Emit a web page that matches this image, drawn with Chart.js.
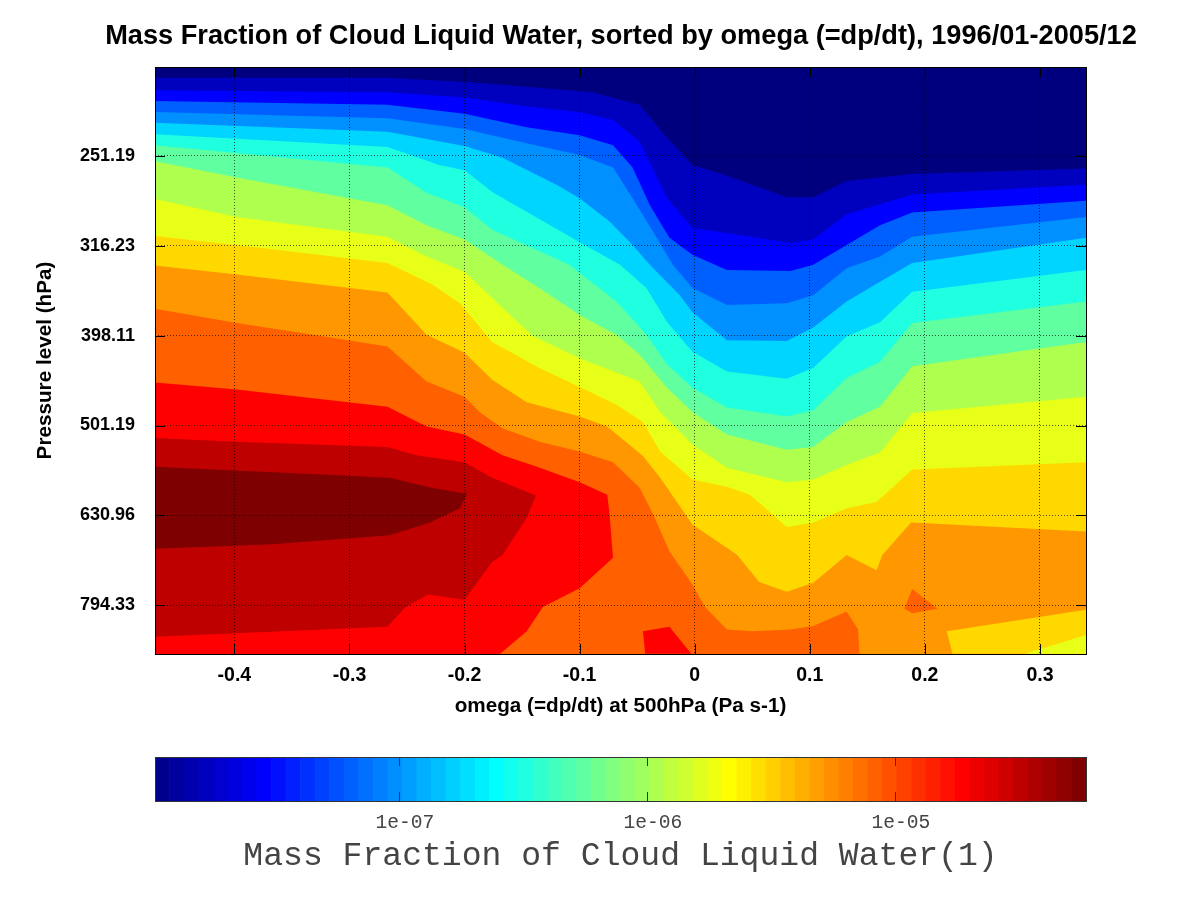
<!DOCTYPE html>
<html><head><meta charset="utf-8">
<style>html,body{margin:0;padding:0;background:#fff;width:1200px;height:900px;overflow:hidden}
canvas{position:absolute;left:0;display:block}</style>
<script src="https://cdn.jsdelivr.net/npm/chart.js@4/dist/chart.umd.min.js"></script>
</head><body>
<canvas id="plot" width="1200" height="730" style="top:0"></canvas>
<canvas id="bar" width="1200" height="160" style="top:740px"></canvas>
<script>
// Axis ranges and ticks
const omegaMin = -0.469, omegaMax = 0.34;
const pressureTop = 200, pressureBottom = 900;
const omegaTicks = [-0.4, -0.3, -0.2, -0.1, 0, 0.1, 0.2, 0.3];
const pressureTicks = [251.19, 316.23, 398.11, 501.19, 630.96, 794.33];
const colorbarTicks = [1e-7, 1e-6, 1e-5];
const colorbarTickLabels = ['1e-07', '1e-06', '1e-05'];
const colorbarMin = 1.04e-8, colorbarMax = 5.9e-5;

// Contour edges: omega (Pa/s) and log10 of pressure (hPa)
const omega0 = [-0.469, 0.34];
const logp0 = [2.301, 2.301];
const omega1 = [-0.469,-0.267,-0.195,-0.146,-0.089,-0.048,-0.026,-0.002,0.028,0.080,0.103,0.132,0.189,0.340];
const logp1 = [2.313,2.313,2.318,2.323,2.329,2.343,2.377,2.410,2.422,2.446,2.446,2.428,2.420,2.414];
const omega2 = [-0.469,-0.267,-0.200,-0.146,-0.100,-0.071,-0.048,-0.024,-0.002,0.083,0.103,0.132,0.189,0.340];
const logp2 = [2.327,2.329,2.335,2.345,2.351,2.360,2.384,2.447,2.480,2.497,2.493,2.465,2.443,2.432];
const omega3 = [-0.469,-0.267,-0.200,-0.146,-0.100,-0.071,-0.054,-0.039,-0.022,-0.002,0.028,0.083,0.103,0.132,0.161,0.189,0.340];
const logp3 = [2.339,2.343,2.353,2.368,2.377,2.388,2.413,2.455,2.491,2.510,2.527,2.528,2.521,2.499,2.477,2.463,2.450];
const omega4 = [-0.469,-0.267,-0.200,-0.146,-0.100,-0.071,-0.054,-0.033,-0.019,-0.002,0.028,0.080,0.103,0.132,0.161,0.189,0.340];
const logp4 = [2.351,2.358,2.370,2.386,2.399,2.413,2.447,2.491,2.521,2.547,2.566,2.564,2.555,2.525,2.512,2.490,2.468];
const omega5 = [-0.469,-0.267,-0.200,-0.167,-0.120,-0.100,-0.074,-0.054,-0.039,-0.013,-0.002,0.028,0.080,0.103,0.132,0.161,0.189,0.340];
const logp5 = [2.363,2.373,2.389,2.402,2.432,2.447,2.473,2.499,2.521,2.555,2.574,2.605,2.606,2.591,2.562,2.540,2.519,2.491];
const omega6 = [-0.469,-0.267,-0.222,-0.200,-0.176,-0.100,-0.065,-0.042,-0.024,-0.002,0.028,0.080,0.103,0.132,0.161,0.189,0.340];
const logp6 = [2.376,2.390,2.410,2.416,2.440,2.496,2.521,2.547,2.585,2.618,2.640,2.648,2.636,2.601,2.585,2.551,2.527];
const omega7 = [-0.469,-0.267,-0.233,-0.200,-0.176,-0.109,-0.068,-0.042,-0.024,-0.002,0.028,0.080,0.103,0.132,0.161,0.189,0.340];
const logp7 = [2.388,2.413,2.441,2.457,2.482,2.521,2.562,2.599,2.632,2.658,2.680,2.690,2.683,2.647,2.629,2.586,2.562];
const omega8 = [-0.469,-0.398,-0.267,-0.233,-0.200,-0.167,-0.135,-0.100,-0.068,-0.048,-0.024,-0.002,0.028,0.080,0.103,0.132,0.161,0.189,0.340];
const logp8 = [2.406,2.424,2.455,2.477,2.493,2.521,2.547,2.577,2.599,2.621,2.658,2.685,2.710,2.727,2.724,2.696,2.679,2.634,2.607];
const omega9 = [-0.469,-0.398,-0.267,-0.233,-0.200,-0.176,-0.141,-0.100,-0.048,-0.030,-0.002,0.028,0.080,0.103,0.132,0.161,0.189,0.340];
const logp9 = [2.448,2.468,2.490,2.512,2.529,2.558,2.600,2.625,2.651,2.685,2.721,2.747,2.763,2.760,2.744,2.730,2.686,2.668];
const omega10 = [-0.469,-0.398,-0.267,-0.228,-0.204,-0.176,-0.135,-0.100,-0.068,-0.045,-0.030,-0.002,0.028,0.048,0.080,0.103,0.132,0.158,0.189,0.340];
const logp10 = [2.489,2.499,2.519,2.543,2.564,2.607,2.636,2.657,2.677,2.696,2.729,2.760,2.768,2.777,2.813,2.808,2.792,2.785,2.749,2.741];
const omega11 = [-0.469,-0.398,-0.267,-0.233,-0.200,-0.176,-0.146,-0.100,-0.076,-0.045,-0.030,-0.002,0.037,0.056,0.080,0.103,0.132,0.158,0.163,0.188,0.340];
const logp11 = [2.522,2.532,2.552,2.599,2.619,2.649,2.674,2.690,2.701,2.734,2.758,2.810,2.844,2.874,2.885,2.875,2.844,2.861,2.844,2.808,2.818];
const omega12 = [-0.469,-0.398,-0.326,-0.267,-0.233,-0.200,-0.187,-0.167,-0.135,-0.100,-0.071,-0.048,-0.036,-0.022,-0.002,0.009,0.028,0.050,0.083,0.103,0.132,0.142,0.143];
const logp12 = [2.570,2.586,2.600,2.612,2.651,2.668,2.685,2.703,2.718,2.729,2.741,2.769,2.799,2.840,2.877,2.902,2.927,2.929,2.927,2.923,2.907,2.927,2.954];
const omega13 = [-0.469,-0.398,-0.267,-0.233,-0.200,-0.167,-0.137,-0.100,-0.076,-0.074,-0.071,-0.100,-0.132,-0.146,-0.169];
const logp13 = [2.652,2.660,2.679,2.701,2.710,2.733,2.746,2.763,2.777,2.799,2.847,2.881,2.902,2.929,2.954];
const omega14 = [-0.469,-0.398,-0.267,-0.242,-0.200,-0.176,-0.138,-0.146,-0.167,-0.176,-0.200,-0.232,-0.252,-0.267,-0.469];
const logp14 = [2.714,2.718,2.724,2.733,2.741,2.758,2.778,2.803,2.844,2.852,2.894,2.888,2.903,2.924,2.935];
const omega15 = [-0.469,-0.400,-0.300,-0.265,-0.230,-0.198,-0.204,-0.230,-0.265,-0.367,-0.469];
const logp15 = [2.746,2.750,2.756,2.758,2.769,2.776,2.792,2.808,2.822,2.832,2.837];
// Closed islands
const omegaIslandOrange = [0.189,0.182,0.189,0.211];
const logpIslandOrange = [2.882,2.904,2.909,2.904];
const omegaIslandRed = [-0.045,-0.022,-0.003,-0.043];
const logpIslandRed = [2.929,2.924,2.954,2.954];
const omegaHoleGold = [0.219,0.340,0.340,0.224];
const logpHoleGold = [2.929,2.905,2.954,2.954];
const omegaHoleYellow = [0.287,0.340,0.340];
const logpHoleYellow = [2.954,2.933,2.954];

const bandColors = ['#00007f','#0000bf','#0000ff','#0060ff','#0090ff','#00d5ff','#20ffdf','#60ff9f','#afff4f','#e8ff17','#ffd800','#ff9800','#ff6000','#ff0000','#bf0000','#7f0000'];

const toPts = (o, l) => o.map((x, i) => ({x, y: Math.pow(10, l[i])}));
// An edge that starts at the left side is closed along the bottom of the plot.
const toRegion = (o, l) => toPts(o, l).concat([{x: o[o.length-1], y: pressureBottom}, {x: o[0], y: pressureBottom}]);

const regions = [
  [toRegion(omega0, logp0), bandColors[0]],
  [toRegion(omega1, logp1), bandColors[1]],
  [toRegion(omega2, logp2), bandColors[2]],
  [toRegion(omega3, logp3), bandColors[3]],
  [toRegion(omega4, logp4), bandColors[4]],
  [toRegion(omega5, logp5), bandColors[5]],
  [toRegion(omega6, logp6), bandColors[6]],
  [toRegion(omega7, logp7), bandColors[7]],
  [toRegion(omega8, logp8), bandColors[8]],
  [toRegion(omega9, logp9), bandColors[9]],
  [toRegion(omega10, logp10), bandColors[10]],
  [toRegion(omega11, logp11), bandColors[11]],
  [toPts(omegaHoleGold, logpHoleGold), bandColors[10]],
  [toPts(omegaHoleYellow, logpHoleYellow), bandColors[9]],
  [toRegion(omega12, logp12), bandColors[12]],
  [toPts(omegaIslandOrange, logpIslandOrange), bandColors[12]],
  [toRegion(omega13, logp13), bandColors[13]],
  [toPts(omegaIslandRed, logpIslandRed), bandColors[13]],
  [toPts(omega14, logp14), bandColors[14]],
  [toPts(omega15, logp15), bandColors[15]]
];

const framePlugin = {
  id: 'frame',
  afterLayout(chart, args, opts) {
    // The title is centred over the plot, but may run wider than it.
    if (opts.titleLeft !== undefined && chart.titleBlock) {
      chart.titleBlock.left = opts.titleLeft;
      chart.titleBlock.right = chart.width;
    }
  },
  afterDraw(chart, args, opts) {
    const {ctx, chartArea: a} = chart;
    ctx.save();
    ctx.strokeStyle = opts.tickColor;
    ctx.lineWidth = 1;
    ctx.beginPath();
    const len = opts.tick;
    for (const id of opts.xScales) {
      const s = chart.scales[id];
      for (const t of s.ticks) {
        const p = Math.round(s.getPixelForValue(t.value)) + 0.5;
        ctx.moveTo(p, a.bottom); ctx.lineTo(p, a.bottom - len);
        ctx.moveTo(p, a.top); ctx.lineTo(p, a.top + len);
      }
    }
    for (const id of opts.yScales) {
      const s = chart.scales[id];
      for (const t of s.ticks) {
        const p = Math.round(s.getPixelForValue(t.value)) + 0.5;
        ctx.moveTo(a.left, p); ctx.lineTo(a.left + len, p);
        ctx.moveTo(a.right, p); ctx.lineTo(a.right - len, p);
      }
    }
    ctx.stroke();
    ctx.strokeStyle = opts.color;
    ctx.strokeRect(Math.round(a.left) + 0.5, Math.round(a.top) + 0.5, Math.round(a.right - a.left), Math.round(a.bottom - a.top));
    ctx.restore();
  }
};

const tickFontX = {family: '"Liberation Sans"', size: 19.5, weight: 'bold', lineHeight: 1};
const tickFontY = {family: '"Liberation Sans"', size: 18, weight: 'bold', lineHeight: 1};
const axisTitleFont = {family: '"Liberation Sans"', size: 20.7, weight: 'bold', lineHeight: 1};
const dots = {color: 'rgba(0,0,0,0.65)', lineWidth: 1, drawTicks: false, z: 1};

new Chart(document.getElementById('plot'), {
  type: 'scatter',
  data: {datasets: regions.map(([data, color], i) => ({
    data, showLine: true, fill: 'shape', backgroundColor: color, borderWidth: 0,
    borderColor: color, pointRadius: 0, pointHoverRadius: 0, tension: 0, order: regions.length - i
  }))},
  options: {
    responsive: false, animation: false, devicePixelRatio: 1,
    layout: {padding: {right: 114, left: 0, top: 0, bottom: 0}},
    events: [],
    plugins: {
      legend: {display: false}, tooltip: {enabled: false},
      title: {display: true, text: 'Mass Fraction of Cloud Liquid Water, sorted by omega (=dp/dt), 1996/01-2005/12',
        color: '#000', font: {family: '"Liberation Sans"', size: 27.2, weight: 'bold', lineHeight: 1},
        padding: {top: 23, bottom: 16.8}},
      frame: {tick: 10, color: '#000', tickColor: '#000', xScales: ['x'], yScales: ['y'], titleLeft: 42}
    },
    scales: {
      x: {
        type: 'linear', min: omegaMin, max: omegaMax,
        afterBuildTicks(s) { s.ticks = omegaTicks.map(value => ({value})); },
        afterFit(s) { s.height = 76; },
        grid: dots, border: {display: false, dash: [1, 2]},
        ticks: {color: '#000', font: tickFontX, padding: 12, maxRotation: 0, autoSkip: false,
          callback: v => (v === 0 ? '0' : String(+v.toFixed(1)))},
        title: {display: true, text: 'omega (=dp/dt) at 500hPa (Pa s-1)', color: '#000', font: axisTitleFont, padding: {top: 0, bottom: 13}}
      },
      y: {
        type: 'logarithmic', reverse: true, min: pressureTop, max: pressureBottom,
        afterBuildTicks(s) { s.ticks = pressureTicks.map(value => ({value})); },
        afterFit(s) { s.width = 155; },
        grid: dots, border: {display: false, dash: [1, 2]},
        ticks: {color: '#000', font: tickFontY, padding: 20, autoSkip: false, callback: v => v.toFixed(2)},
        title: {display: true, text: 'Pressure level (hPa)', color: '#000', font: axisTitleFont, padding: {top: 35, bottom: 0}}
      }
    }
  },
  plugins: [framePlugin]
});

// Colour bar: 64 steps of the jet colour table
const colorbarSteps = 64;
function jetStep(i) {
  const n = i + 1;
  const r = n <= 24 ? 0 : n <= 40 ? 0.0625 * (n - 24) : n <= 56 ? 1 : 1 - 0.0625 * (n - 56);
  const g = n <= 8 ? 0 : n <= 24 ? 0.0625 * (n - 8) : n <= 40 ? 1 : n <= 56 ? 1 - 0.0625 * (n - 40) : 0;
  const b = n <= 8 ? 0.5 + 0.0625 * n : n <= 24 ? 1 : n <= 40 ? 1 - 0.0625 * (n - 24) : 0;
  return `rgb(${Math.round(r * 255)},${Math.round(g * 255)},${Math.round(b * 255)})`;
}
const stepLabels = Array.from({length: colorbarSteps}, (_, i) => i + 1);
const stepFill = stepLabels.map(() => 1);

new Chart(document.getElementById('bar'), {
  type: 'bar',
  data: {labels: stepLabels, datasets: [{
    data: stepFill, xAxisID: 'x', yAxisID: 'y',
    backgroundColor: stepLabels.map((_, i) => jetStep(i)),
    categoryPercentage: 1, barPercentage: 1, borderWidth: 0
  }]},
  options: {
    responsive: false, animation: false, devicePixelRatio: 1, events: [],
    layout: {padding: {left: 155, right: 114, top: 17, bottom: 0}},
    plugins: {legend: {display: false}, tooltip: {enabled: false},
      frame: {tick: 9, color: '#333', tickColor: '#333', xScales: ['xLog'], yScales: []}},
    scales: {
      x: {type: 'category', display: false},
      y: {min: 0, max: 1, display: false},
      xLog: {
        type: 'logarithmic', axis: 'x', position: 'bottom', min: colorbarMin, max: colorbarMax,
        afterBuildTicks(s) { s.ticks = colorbarTicks.map(value => ({value})); },
        afterFit(s) { s.height = 99; },
        grid: {display: false, drawTicks: false}, border: {display: false},
        ticks: {color: '#444', padding: 12, autoSkip: false, maxRotation: 0, labelOffset: 6,
          font: {family: '"Liberation Mono"', size: 19.6, lineHeight: 1},
          callback: (v) => colorbarTickLabels[colorbarTicks.findIndex(t => Math.abs(t - v) < t * 0.01)]},
        title: {display: true, text: 'Mass Fraction of Cloud Liquid Water(1)', color: '#444',
          font: {family: '"Liberation Mono"', size: 33.1, lineHeight: 1}, padding: {top: 0, bottom: 27}}
      }
    }
  },
  plugins: [framePlugin]
});
</script>
</body></html>
